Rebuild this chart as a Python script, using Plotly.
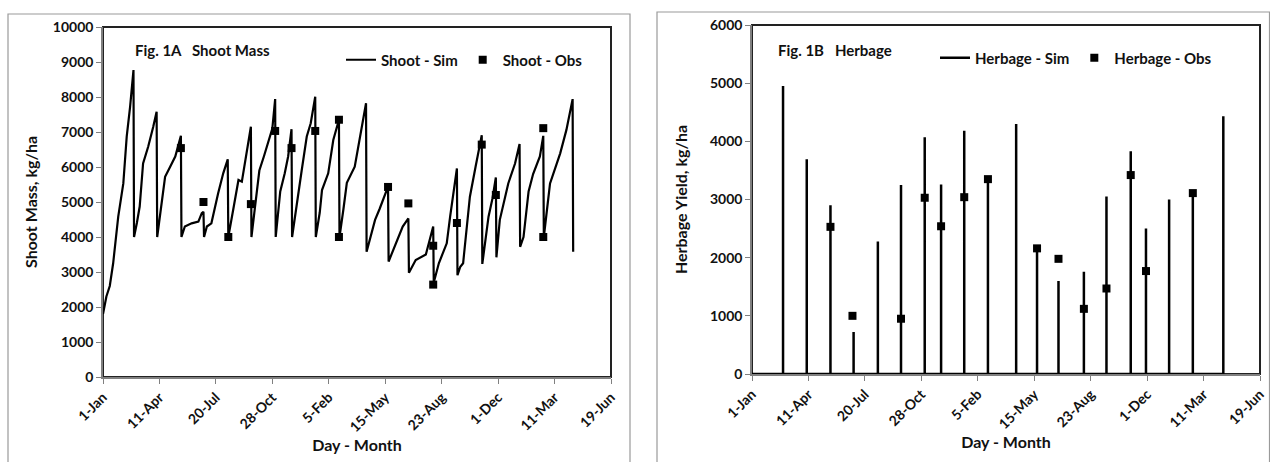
import plotly.graph_objects as go

# ---------------- data ----------------
tick_labels = ["1-Jan", "11-Apr", "20-Jul", "28-Oct", "5-Feb", "15-May",
               "23-Aug", "1-Dec", "11-Mar", "19-Jun"]

# Fig 1A: simulated shoot mass (day since 1-Jan, kg/ha)
sim_days = [0, 6, 12, 18, 27, 36, 42, 48, 54,
            55, 60, 65, 71, 80, 89, 95,
            96, 101, 110, 119, 128, 138,
            139, 145, 157, 169, 175, 178,
            179, 184, 192, 204, 213, 221,
            222, 232, 240, 246, 255, 262,
            263, 270, 277, 285, 293, 300, 305,
            306, 314, 322, 328, 334,
            335, 343, 352, 361, 368, 376,
            377, 384, 388, 399, 408, 418,
            419, 426, 432, 446, 455, 466,
            467, 472, 482, 490, 502, 505,
            506, 519, 531, 541,
            542, 554, 566, 572, 585,
            586, 595, 609, 615, 627,
            628, 633, 638, 645, 650, 660, 668, 671,
            672, 677, 683, 690, 696,
            697, 703, 718, 730, 738,
            739, 745, 754, 762, 774, 780,
            781, 792, 810, 821, 832, 833]
sim_mass = [1800, 2300, 2600, 3250, 4580, 5530, 6870, 7720, 8770,
            4000, 4400, 4870, 6100, 6580, 7150, 7580,
            4000, 4580, 5720, 6010, 6300, 6890,
            4000, 4300, 4390, 4440, 4680, 4720,
            4000, 4300, 4390, 5250, 5820, 6220,
            4000, 4900, 5630, 5580, 6500, 7150,
            4000, 5000, 5900, 6300, 6700, 7100, 7940,
            4000, 5300, 5820, 6300, 7080,
            4000, 4960, 5900, 6870, 7250, 8010,
            4000, 4700, 5340, 5820, 6770, 7350,
            4000, 4800, 5550, 6010, 6800, 7820,
            3580, 3900, 4490, 4800, 5300, 5440,
            3300, 3820, 4300, 4530,
            2980, 3340, 3440, 3500, 4300,
            2700, 3250, 3820, 4580, 5960,
            2910, 3150, 3250, 4300, 5150, 6000, 6680, 6910,
            3230, 3900, 4580, 5100, 5700,
            3420, 4490, 5530, 6100, 6660,
            3720, 4000, 5300, 5800, 6300, 6890,
            4000, 5530, 6390, 7060, 7940, 3580]

# Fig 1A: observed shoot mass
obs_shoot_days = [138, 178, 222, 262, 305, 334, 376, 418, 418, 505, 541,
                  585, 585, 627, 671, 696, 780, 780]
obs_shoot = [6540, 5000, 4000, 4940, 7030, 6540, 7030, 7350, 4000, 5430, 4960,
             3750, 2640, 4400, 6640, 5200, 7110, 4000]

# Fig 1B: simulated herbage yield at each harvest
harv_days = [55, 97, 139, 180, 223, 264, 306, 335, 376, 418, 468, 505, 543,
             588, 628, 671, 698, 739, 781, 835]
harv_yield = [4950, 3690, 2900, 720, 2280, 3250, 4070, 3260, 4180, 3370, 4300,
              2160, 1600, 1760, 3050, 3830, 2500, 3000, 3060, 4430]

# Fig 1B: observed herbage yield
obs_herb_days = [139, 178, 264, 306, 335, 376, 418, 505, 543, 588, 628, 671,
                 698, 781]
obs_herb = [2530, 1000, 950, 3030, 2540, 3040, 3350, 2160, 1980, 1120, 1470,
            3420, 1770, 3110]

# ---------------- layout helpers ----------------
W, H = 1270, 462


def fx(x):
    return x / W


def fy(y):
    return 1 - y / H


FONT = "Lato"
TXT = "#111111"
AXC = "#808080"

fig = go.Figure()

fig.add_trace(go.Scatter(
    x=sim_days, y=sim_mass, mode="lines", name="Shoot - Sim",
    line=dict(color="black", width=2.2), xaxis="x", yaxis="y",
    legend="legend"))
fig.add_trace(go.Scatter(
    x=obs_shoot_days, y=obs_shoot, mode="markers", name="Shoot - Obs",
    marker=dict(symbol="square", size=8, color="black"),
    xaxis="x", yaxis="y", legend="legend"))

hx, hy = [0], [0]
for d, v in zip(harv_days, harv_yield):
    hx += [d, d, d]
    hy += [0, v, 0]
fig.add_trace(go.Scatter(
    x=hx, y=hy, mode="lines", name="Herbage - Sim",
    line=dict(color="black", width=2.5), xaxis="x2", yaxis="y2",
    legend="legend2"))
fig.add_trace(go.Scatter(
    x=obs_herb_days, y=obs_herb, mode="markers", name="Herbage - Obs",
    marker=dict(symbol="square", size=8, color="black"),
    xaxis="x2", yaxis="y2", legend="legend2"))

tickfont = dict(family=FONT, size=14, color=TXT, weight="bold")
titlefont = dict(family=FONT, size=16, color=TXT, weight="bold")
legfont = dict(family=FONT, size=15, color=TXT, weight="bold")
xt = [i * 100 for i in range(len(tick_labels))]

common = dict(showgrid=False, zeroline=False, showline=True, linecolor=AXC,
              linewidth=1.5, ticks="outside", ticklen=5, tickcolor=AXC,
              tickwidth=1, tickfont=tickfont, automargin=False)

fig.update_layout(
    width=W, height=H, margin=dict(l=0, r=0, t=0, b=0),
    paper_bgcolor="white", plot_bgcolor="white",
    xaxis=dict(domain=[fx(103), fx(611)], range=[0, 900], tickvals=xt,
               ticktext=tick_labels, tickangle=-45, anchor="y",
               title=dict(text="Day - Month", font=titlefont, standoff=3),
               **common),
    yaxis=dict(domain=[fy(377), fy(27)], range=[0, 10000], dtick=1000,
               tickformat="d", anchor="x",
               title=dict(text="Shoot Mass, kg/ha", font=titlefont,
                          standoff=11),
               **common),
    xaxis2=dict(domain=[fx(752), fx(1260)], range=[0, 900], tickvals=xt,
                ticktext=tick_labels, tickangle=-45, anchor="y2",
                title=dict(text="Day - Month", font=titlefont, standoff=3),
                **common),
    yaxis2=dict(domain=[fy(374), fy(25)], range=[0, 6000], dtick=1000,
                tickformat="d", anchor="x2",
                title=dict(text="Herbage Yield, kg/ha", font=titlefont,
                           standoff=18),
                **common),
    legend=dict(orientation="h", x=fx(341), y=fy(60), xanchor="left",
                yanchor="middle", font=legfont, bgcolor="rgba(0,0,0,0)"),
    legend2=dict(orientation="h", x=fx(935), y=fy(58), xanchor="left",
                 yanchor="middle", font=legfont, bgcolor="rgba(0,0,0,0)"),
    annotations=[
        dict(text="Fig. 1A\u00a0\u00a0\u00a0Shoot Mass", xref="paper",
             yref="paper", x=fx(133), y=fy(50), xanchor="left",
             yanchor="middle", showarrow=False,
             font=dict(family=FONT, size=15, color=TXT, weight="bold")),
        dict(text="Fig. 1B\u00a0\u00a0\u00a0Herbage", xref="paper",
             yref="paper", x=fx(776), y=fy(50), xanchor="left",
             yanchor="middle", showarrow=False,
             font=dict(family=FONT, size=15, color=TXT, weight="bold")),
    ],
    shapes=[
        # plot-area borders
        dict(type="rect", xref="x domain", yref="y domain", x0=0, x1=1,
             y0=0, y1=1, line=dict(color="#222222", width=2), layer="below"),
        dict(type="rect", xref="x2 domain", yref="y2 domain", x0=0, x1=1,
             y0=0, y1=1, line=dict(color="#222222", width=2), layer="below"),
        # outer chart frames
        dict(type="path", xref="paper", yref="paper",
             path=f"M {fx(8)},0 L {fx(8)},{fy(14)} L {fx(630)},{fy(14)} L {fx(630)},0",
             line=dict(color="#9a9a9a", width=1.2)),
        dict(type="path", xref="paper", yref="paper",
             path=f"M {fx(657)},0 L {fx(657)},{fy(12)} L {fx(1269.5)},{fy(12)} L {fx(1269.5)},0",
             line=dict(color="#9a9a9a", width=1.2)),
    ],
)

fig.write_html(
    "out.html",
    config={"displayModeBar": False},
    post_script="document.body.style.margin='0';document.body.style.overflow='hidden';",
)
